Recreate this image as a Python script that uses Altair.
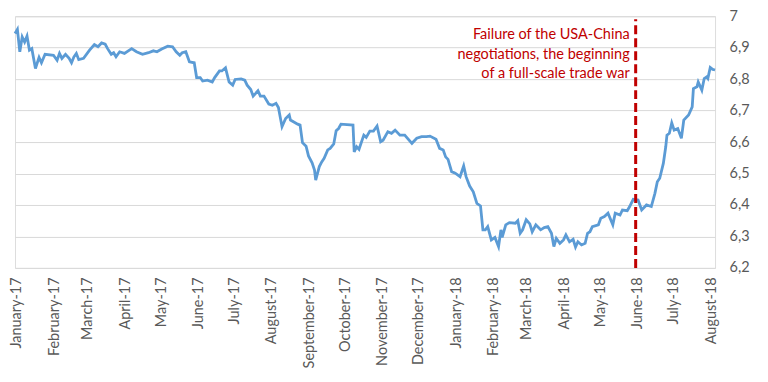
import altair as alt
import pandas as pd

# days since 2017-01-01 and CNY/USD rate
day = [0, 2, 4, 6, 8, 10, 12, 14, 17, 20, 22, 25, 32, 35, 37, 39, 42, 45, 47, 49,
       51, 53, 57, 62, 66, 69, 72, 75, 77, 80, 82, 84, 87, 91, 97, 101, 106, 111, 115, 118,
       122, 127, 131, 134, 137, 139, 142, 145, 149, 151, 154, 156, 160, 164, 166, 170, 172, 175, 178, 181,
       183, 188, 191, 193, 196, 198, 202, 204, 207, 211, 214, 217, 219, 222, 225, 228, 229, 235, 237, 239,
       242, 244, 247, 249, 250, 253, 255, 257, 260, 262, 265, 267, 269, 271, 281, 282, 284, 286, 290, 292,
       295, 298, 301, 304, 306, 310, 313, 316, 320, 324, 330, 334, 338, 342, 345, 350, 353, 356, 358, 360,
       363, 366, 370, 373, 375, 378, 381, 384, 387, 389, 391, 393, 396, 399, 402, 404, 405, 408, 411, 416,
       418, 420, 422, 425, 428, 430, 433, 437, 440, 443, 446, 448, 450, 453, 456, 458, 461, 464, 466, 468,
       471, 474, 476, 478, 480, 485, 487, 490, 493, 497, 499, 503, 505, 509, 511, 514, 518, 521, 525, 529,
       532, 534, 536, 539, 541, 542, 544, 546, 548, 551, 554, 556, 560, 563, 564, 567, 568, 571, 573, 575,
       576, 578, 580, 582]
rate = [6.945, 6.958, 6.887, 6.934, 6.918, 6.937, 6.892, 6.897, 6.834, 6.869, 6.852, 6.879, 6.876, 6.860, 6.882, 6.866, 6.879, 6.866, 6.852, 6.871,
        6.882, 6.862, 6.866, 6.892, 6.910, 6.903, 6.915, 6.911, 6.897, 6.879, 6.884, 6.871, 6.887, 6.882, 6.897, 6.887, 6.879, 6.884, 6.890, 6.887,
        6.896, 6.905, 6.903, 6.887, 6.876, 6.884, 6.887, 6.855, 6.852, 6.805, 6.805, 6.794, 6.797, 6.791, 6.805, 6.826, 6.826, 6.836, 6.791, 6.781,
        6.799, 6.801, 6.797, 6.781, 6.767, 6.746, 6.763, 6.746, 6.746, 6.721, 6.717, 6.723, 6.710, 6.649, 6.675, 6.686, 6.670, 6.657, 6.654, 6.598,
        6.587, 6.556, 6.534, 6.511, 6.479, 6.522, 6.537, 6.548, 6.575, 6.580, 6.594, 6.636, 6.643, 6.657, 6.654, 6.569, 6.585, 6.577, 6.622, 6.615,
        6.635, 6.635, 6.651, 6.601, 6.606, 6.633, 6.628, 6.638, 6.622, 6.622, 6.596, 6.612, 6.617, 6.617, 6.619, 6.609, 6.580, 6.575, 6.553, 6.545,
        6.506, 6.501, 6.490, 6.524, 6.490, 6.460, 6.442, 6.405, 6.397, 6.321, 6.321, 6.331, 6.289, 6.297, 6.268, 6.321, 6.297, 6.337, 6.344, 6.342,
        6.350, 6.310, 6.321, 6.353, 6.340, 6.315, 6.337, 6.321, 6.328, 6.331, 6.310, 6.268, 6.294, 6.278, 6.289, 6.305, 6.283, 6.291, 6.266, 6.283,
        6.273, 6.278, 6.310, 6.315, 6.331, 6.337, 6.358, 6.363, 6.374, 6.337, 6.374, 6.368, 6.384, 6.382, 6.395, 6.418, 6.416, 6.384, 6.400, 6.395,
        6.437, 6.474, 6.485, 6.532, 6.585, 6.622, 6.628, 6.661, 6.638, 6.643, 6.612, 6.670, 6.686, 6.712, 6.770, 6.776, 6.791, 6.765, 6.802, 6.807,
        6.802, 6.837, 6.831, 6.829]

y_ticks = [6.2, 6.3, 6.4, 6.5, 6.6, 6.7, 6.8, 6.9, 7.0]
event_date = ["2018-06-01"]
event_text = ["Failure of the USA-China\nnegotiations, the beginning \nof a full-scale trade war"]

df = pd.DataFrame({
    "date": pd.Timestamp("2017-01-01") + pd.to_timedelta(day, unit="D"),
    "rate": rate,
})
ev = pd.DataFrame({"date": pd.to_datetime(event_date), "y0": [6.2], "y1": [6.99],
                   "ty": [6.962], "label": event_text})

FONT = "Lato"
GRAY = "#595959"
RED = "#C00000"

month_ticks = [alt.DateTime(year=2017 + (m // 12), month=(m % 12) + 1, date=1) for m in range(20)]

xscale = alt.Scale(domain=[alt.DateTime(year=2017, month=1, date=1),
                           alt.DateTime(year=2018, month=8, date=6)])
yscale = alt.Scale(domain=[6.2, 7.0], nice=False, zero=False)

xaxis = alt.Axis(values=month_ticks, format="%B-%y", labelAngle=270,
                 labelAlign="right", labelBaseline="middle", labelOffset=2,
                 labelFont=FONT, labelFontSize=14.5, labelColor=GRAY,
                 ticks=False, domain=False, grid=False, labelPadding=9,
                 labelOverlap=False, labelFlush=False, title=None)
yaxis = alt.Axis(orient="right", values=y_ticks,
                 labelExpr="replace(format(datum.value, '.1~f'), '.', ',')",
                 labelFont=FONT, labelFontSize=14.5, labelColor=GRAY,
                 labelOverlap=False, ticks=False, domain=False, grid=True,
                 gridColor="#D9D9D9", gridWidth=1, labelPadding=14, title=None)

line = alt.Chart(df).mark_line(color="#5B9BD5", strokeWidth=2.8).encode(
    x=alt.X("date:T", scale=xscale, axis=xaxis),
    y=alt.Y("rate:Q", scale=yscale, axis=yaxis),
)

rule = alt.Chart(ev).mark_rule(color=RED, strokeWidth=3, strokeDash=[9, 4]).encode(
    x=alt.X("date:T", scale=xscale, axis=xaxis),
    y=alt.Y("y0:Q", scale=yscale, axis=yaxis),
    y2="y1:Q",
)

text = alt.Chart(ev).mark_text(color=RED, font=FONT, fontSize=14.5, align="right",
                               baseline="top", lineBreak="\n", lineHeight=19.5, dx=-6).encode(
    x=alt.X("date:T", scale=xscale, axis=xaxis),
    y=alt.Y("ty:Q", scale=yscale, axis=yaxis),
    text="label:N",
)

chart = alt.layer(line, rule, text).properties(
    width=701, height=252,
    autosize=alt.AutoSizeParams(type="none"),
    padding={"left": 7, "top": 8, "right": 45, "bottom": 100},
).configure_view(strokeWidth=0).configure(background="white")

chart.save("out.html", embed_options={"renderer": "svg", "actions": False})
